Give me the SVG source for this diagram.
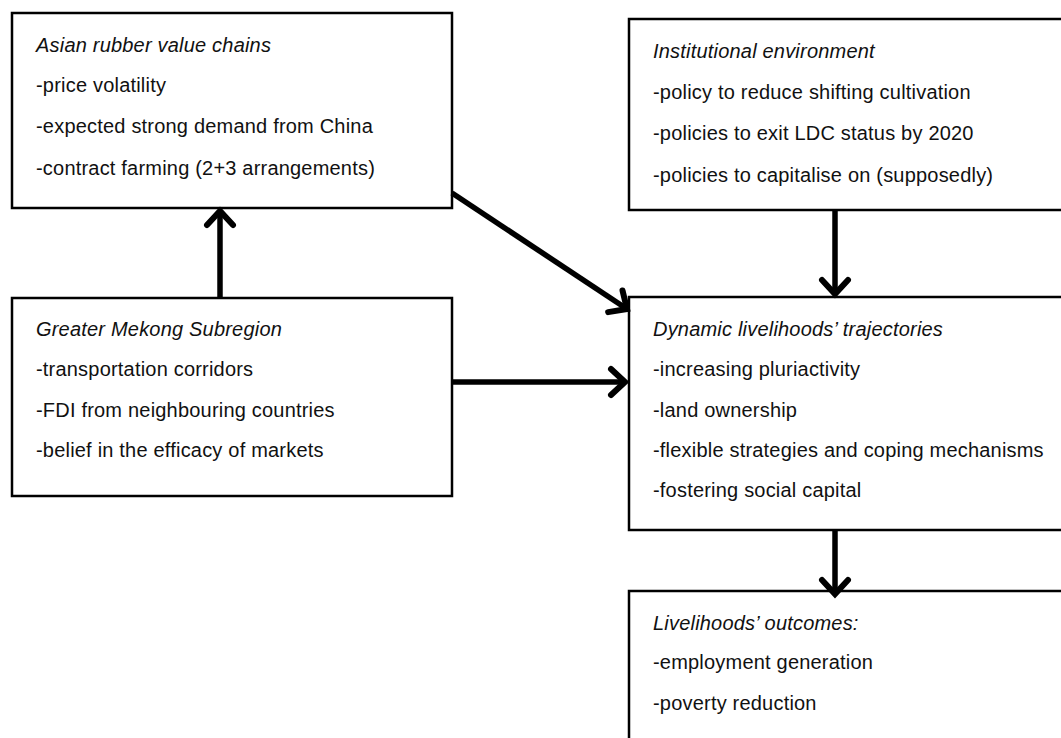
<svg xmlns="http://www.w3.org/2000/svg" width="1061" height="738" viewBox="0 0 1061 738">
<style>
.box{fill:#fff;stroke:#000;stroke-width:2.5}
text{font-family:"Liberation Sans",Arial,sans-serif;font-size:20px;letter-spacing:0.2px;fill:#111}
.t{font-style:italic}
.c{stroke:#000;stroke-width:5.5;fill:none}
</style>
<defs>
<marker id="ah" markerUnits="userSpaceOnUse" markerWidth="40" markerHeight="40" viewBox="-20 -20 40 40" refX="0" refY="0" orient="auto" overflow="visible">
<path d="M-14,-13 L0,0 L-14,13" fill="none" stroke="#000" stroke-width="6" stroke-linecap="round" stroke-linejoin="miter"/>
</marker>
</defs>
<rect width="1061" height="738" fill="#fff"/>
<g id="n1">
<rect class="box" x="12" y="13" width="440" height="195"/>
<text x="36" y="52" class="t">Asian rubber value chains</text>
<text x="36" y="92">-price volatility</text>
<text x="36" y="133">-expected strong demand from China</text>
<text x="36" y="175">-contract farming (2+3 arrangements)</text>
</g>
<g id="n2">
<rect class="box" x="629" y="19" width="445" height="191"/>
<text x="653" y="58" class="t">Institutional environment</text>
<text x="653" y="99">-policy to reduce shifting cultivation</text>
<text x="653" y="140">-policies to exit LDC status by 2020</text>
<text x="653" y="182">-policies to capitalise on (supposedly)</text>
</g>
<g id="n3">
<rect class="box" x="12" y="298" width="440" height="198"/>
<text x="36" y="336" class="t">Greater Mekong Subregion</text>
<text x="36" y="376">-transportation corridors</text>
<text x="36" y="417">-FDI from neighbouring countries</text>
<text x="36" y="457">-belief in the efficacy of markets</text>
</g>
<g id="n4">
<rect class="box" x="629" y="297" width="445" height="233"/>
<text x="653" y="336" class="t">Dynamic livelihoods’ trajectories</text>
<text x="653" y="376">-increasing pluriactivity</text>
<text x="653" y="417">-land ownership</text>
<text x="653" y="457">-flexible strategies and coping mechanisms</text>
<text x="653" y="497">-fostering social capital</text>
</g>
<g id="n5">
<rect class="box" x="629" y="591" width="445" height="160"/>
<text x="653" y="630" class="t">Livelihoods’ outcomes:</text>
<text x="653" y="669">-employment generation</text>
<text x="653" y="710">-poverty reduction</text>
</g>
<g id="connectors">
<line class="c" x1="220" y1="298" x2="220" y2="211" marker-end="url(#ah)"/>
<line class="c" x1="452" y1="193" x2="627" y2="309" marker-end="url(#ah)"/>
<line class="c" x1="452" y1="382" x2="625" y2="382" marker-end="url(#ah)"/>
<line class="c" x1="835" y1="210" x2="835" y2="294" marker-end="url(#ah)"/>
<line class="c" x1="835" y1="530" x2="835" y2="594" marker-end="url(#ah)"/>
</g>
</svg>
